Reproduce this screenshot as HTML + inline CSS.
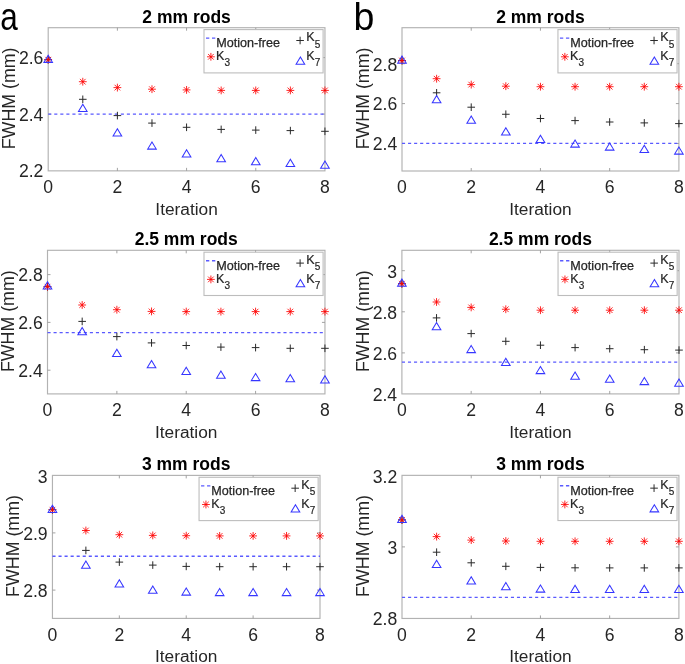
<!DOCTYPE html>
<html><head><meta charset="utf-8"><style>
html,body{margin:0;padding:0;background:#fff;}
svg{display:block;font-family:"Liberation Sans", sans-serif;will-change:transform;}
</style></head><body>
<svg width="685" height="664" viewBox="0 0 685 664">
<rect width="685" height="664" fill="#fff"/>
<text x="0" y="0" font-size="38.5" text-anchor="start" font-weight="normal" fill="#000" transform="translate(0.2 29.8) scale(0.82 1)">a</text><text x="0" y="0" font-size="38.5" text-anchor="start" font-weight="normal" fill="#000" transform="translate(353.6 29.5) scale(0.975 1.02)">b</text>
<rect x="48.2" y="27.7" width="276.75" height="143.15" fill="none" stroke="#b2b2b2" stroke-width="1.15"/>
<path d="M117.39 170.85v-3.0M117.39 27.7v3.0M186.57 170.85v-3.0M186.57 27.7v3.0M255.76 170.85v-3.0M255.76 27.7v3.0M48.2 114.1h3.0M324.95 114.1h-3.0M48.2 57.6h3.0M324.95 57.6h-3.0" stroke="#999" stroke-width="0.9"/>
<line x1="48.2" y1="114.1" x2="324.95" y2="114.1" stroke="#5a5aff" stroke-width="1.35" stroke-dasharray="3.1 2.95"/>
<path d="M44.4 59.7H52M48.2 55.9V63.5" stroke="#2a2a2a" stroke-width="1.0" fill="none"/>
<path d="M44.3 59.7H52.1M48.2 55.8V63.6M45.39 56.89L51.01 62.51M45.39 62.51L51.01 56.89" stroke="#ff0000" stroke-width="0.85" fill="none"/>
<path d="M48.2 55.15L52.5 62.35H43.9Z" stroke="#3636ff" stroke-width="1.05" fill="none" stroke-linejoin="miter"/>
<path d="M78.99 99.3H86.59M82.79 95.5V103.1" stroke="#2a2a2a" stroke-width="1.0" fill="none"/>
<path d="M78.89 81.7H86.69M82.79 77.8V85.6M79.99 78.89L85.6 84.51M79.99 84.51L85.6 78.89" stroke="#ff0000" stroke-width="0.85" fill="none"/>
<path d="M82.79 104.3L87.09 111.5H78.49Z" stroke="#3636ff" stroke-width="1.05" fill="none" stroke-linejoin="miter"/>
<path d="M113.59 115.6H121.19M117.39 111.8V119.4" stroke="#2a2a2a" stroke-width="1.0" fill="none"/>
<path d="M113.49 87.6H121.29M117.39 83.7V91.5M114.58 84.79L120.2 90.41M114.58 90.41L120.2 84.79" stroke="#ff0000" stroke-width="0.85" fill="none"/>
<path d="M117.39 128.8L121.69 136H113.09Z" stroke="#3636ff" stroke-width="1.05" fill="none" stroke-linejoin="miter"/>
<path d="M148.18 123.1H155.78M151.98 119.3V126.9" stroke="#2a2a2a" stroke-width="1.0" fill="none"/>
<path d="M148.08 89.2H155.88M151.98 85.3V93.1M149.17 86.39L154.79 92.01M149.17 92.01L154.79 86.39" stroke="#ff0000" stroke-width="0.85" fill="none"/>
<path d="M151.98 141.9L156.28 149.1H147.68Z" stroke="#3636ff" stroke-width="1.05" fill="none" stroke-linejoin="miter"/>
<path d="M182.77 127.3H190.38M186.57 123.5V131.1" stroke="#2a2a2a" stroke-width="1.0" fill="none"/>
<path d="M182.67 89.9H190.47M186.57 86V93.8M183.77 87.09L189.38 92.71M183.77 92.71L189.38 87.09" stroke="#ff0000" stroke-width="0.85" fill="none"/>
<path d="M186.57 149.7L190.88 156.9H182.27Z" stroke="#3636ff" stroke-width="1.05" fill="none" stroke-linejoin="miter"/>
<path d="M217.37 129.4H224.97M221.17 125.6V133.2" stroke="#2a2a2a" stroke-width="1.0" fill="none"/>
<path d="M217.27 90.4H225.07M221.17 86.5V94.3M218.36 87.59L223.98 93.21M218.36 93.21L223.98 87.59" stroke="#ff0000" stroke-width="0.85" fill="none"/>
<path d="M221.17 154.5L225.47 161.7H216.87Z" stroke="#3636ff" stroke-width="1.05" fill="none" stroke-linejoin="miter"/>
<path d="M251.96 130.1H259.56M255.76 126.3V133.9" stroke="#2a2a2a" stroke-width="1.0" fill="none"/>
<path d="M251.86 90.4H259.66M255.76 86.5V94.3M252.95 87.59L258.57 93.21M252.95 93.21L258.57 87.59" stroke="#ff0000" stroke-width="0.85" fill="none"/>
<path d="M255.76 157.6L260.06 164.8H251.46Z" stroke="#3636ff" stroke-width="1.05" fill="none" stroke-linejoin="miter"/>
<path d="M286.56 130.6H294.16M290.36 126.8V134.4" stroke="#2a2a2a" stroke-width="1.0" fill="none"/>
<path d="M286.46 90.4H294.26M290.36 86.5V94.3M287.55 87.59L293.16 93.21M287.55 93.21L293.16 87.59" stroke="#ff0000" stroke-width="0.85" fill="none"/>
<path d="M290.36 159.2L294.66 166.4H286.06Z" stroke="#3636ff" stroke-width="1.05" fill="none" stroke-linejoin="miter"/>
<path d="M321.15 131.3H328.75M324.95 127.5V135.1" stroke="#2a2a2a" stroke-width="1.0" fill="none"/>
<path d="M321.05 90.4H328.85M324.95 86.5V94.3M322.14 87.59L327.76 93.21M322.14 93.21L327.76 87.59" stroke="#ff0000" stroke-width="0.85" fill="none"/>
<path d="M324.95 161.1L329.25 168.3H320.65Z" stroke="#3636ff" stroke-width="1.05" fill="none" stroke-linejoin="miter"/>
<text x="48.2" y="192.95" font-size="17.6" text-anchor="middle" font-weight="normal" fill="#262626" >0</text>
<text x="117.39" y="192.95" font-size="17.6" text-anchor="middle" font-weight="normal" fill="#262626" >2</text>
<text x="186.57" y="192.95" font-size="17.6" text-anchor="middle" font-weight="normal" fill="#262626" >4</text>
<text x="255.76" y="192.95" font-size="17.6" text-anchor="middle" font-weight="normal" fill="#262626" >6</text>
<text x="324.95" y="192.95" font-size="17.6" text-anchor="middle" font-weight="normal" fill="#262626" >8</text>
<text x="43.4" y="177.4" font-size="17.6" text-anchor="end" font-weight="normal" fill="#262626" >2.2</text>
<text x="43.4" y="120.9" font-size="17.6" text-anchor="end" font-weight="normal" fill="#262626" >2.4</text>
<text x="43.4" y="64.4" font-size="17.6" text-anchor="end" font-weight="normal" fill="#262626" >2.6</text>
<text x="186.57" y="214.65" font-size="17.3" text-anchor="middle" font-weight="normal" fill="#262626" >Iteration</text>
<text x="0" y="0" font-size="17.6" text-anchor="middle" font-weight="normal" fill="#262626" textLength="101.8" lengthAdjust="spacingAndGlyphs" transform="translate(14.75 98.37) rotate(-90)">FWHM (mm)</text>
<text x="186.57" y="22.7" font-size="17.5" text-anchor="middle" font-weight="bold" fill="#000" >2 mm rods</text>
<rect x="204" y="29.6" width="119.1" height="43.3" fill="#fff" stroke="#bdbdbd" stroke-width="1.1"/>
<line x1="206" y1="38.1" x2="215.8" y2="38.1" stroke="#5a5aff" stroke-width="1.35" stroke-dasharray="3.3 2.7"/>
<text x="216.3" y="47.1" font-size="12.6" text-anchor="start" font-weight="normal" fill="#262626" stroke="#262626" stroke-width="0.25">Motion-free</text>
<path d="M296.3 40.5H303.9M300.1 36.7V44.3" stroke="#2a2a2a" stroke-width="1.0" fill="none"/>
<text x="306.2" y="41.1" font-size="12.6" text-anchor="start" font-weight="normal" fill="#262626" stroke="#262626" stroke-width="0.2">K</text>
<text x="314.8" y="47.5" font-size="10.0" text-anchor="start" font-weight="normal" fill="#262626" stroke="#262626" stroke-width="0.2">5</text>
<path d="M207 56.8H214.8M210.9 52.9V60.7M208.09 53.99L213.71 59.61M208.09 59.61L213.71 53.99" stroke="#ff0000" stroke-width="0.85" fill="none"/>
<text x="216.1" y="60" font-size="12.6" text-anchor="start" font-weight="normal" fill="#262626" stroke="#262626" stroke-width="0.2">K</text>
<text x="224.6" y="66.3" font-size="10.0" text-anchor="start" font-weight="normal" fill="#262626" stroke="#262626" stroke-width="0.2">3</text>
<path d="M300.4 57L304.7 64.2H296.1Z" stroke="#3636ff" stroke-width="1.05" fill="none" stroke-linejoin="miter"/>
<text x="306.25" y="60.1" font-size="12.6" text-anchor="start" font-weight="normal" fill="#262626" stroke="#262626" stroke-width="0.2">K</text>
<text x="314.7" y="66.2" font-size="10.0" text-anchor="start" font-weight="normal" fill="#262626" stroke="#262626" stroke-width="0.2">7</text>
<rect x="402" y="27.7" width="276.9" height="143.3" fill="none" stroke="#b2b2b2" stroke-width="1.15"/>
<path d="M471.23 171v-3.0M471.23 27.7v3.0M540.45 171v-3.0M540.45 27.7v3.0M609.67 171v-3.0M609.67 27.7v3.0M402 143.5h3.0M678.9 143.5h-3.0M402 103.6h3.0M678.9 103.6h-3.0M402 63.7h3.0M678.9 63.7h-3.0" stroke="#999" stroke-width="0.9"/>
<line x1="402" y1="143.4" x2="678.9" y2="143.4" stroke="#5a5aff" stroke-width="1.35" stroke-dasharray="3.1 2.95"/>
<path d="M398.2 60.55H405.8M402 56.75V64.35" stroke="#2a2a2a" stroke-width="1.0" fill="none"/>
<path d="M398.1 60.55H405.9M402 56.65V64.45M399.19 57.74L404.81 63.36M399.19 63.36L404.81 57.74" stroke="#ff0000" stroke-width="0.85" fill="none"/>
<path d="M402 56L406.3 63.2H397.7Z" stroke="#3636ff" stroke-width="1.05" fill="none" stroke-linejoin="miter"/>
<path d="M432.81 92.8H440.41M436.61 89V96.6" stroke="#2a2a2a" stroke-width="1.0" fill="none"/>
<path d="M432.71 78.7H440.51M436.61 74.8V82.6M433.8 75.89L439.42 81.51M433.8 81.51L439.42 75.89" stroke="#ff0000" stroke-width="0.85" fill="none"/>
<path d="M436.61 95.5L440.91 102.7H432.31Z" stroke="#3636ff" stroke-width="1.05" fill="none" stroke-linejoin="miter"/>
<path d="M467.43 107.2H475.03M471.23 103.4V111" stroke="#2a2a2a" stroke-width="1.0" fill="none"/>
<path d="M467.33 84.6H475.12M471.23 80.7V88.5M468.42 81.79L474.03 87.41M468.42 87.41L474.03 81.79" stroke="#ff0000" stroke-width="0.85" fill="none"/>
<path d="M471.23 116L475.53 123.2H466.93Z" stroke="#3636ff" stroke-width="1.05" fill="none" stroke-linejoin="miter"/>
<path d="M502.04 114.25H509.64M505.84 110.45V118.05" stroke="#2a2a2a" stroke-width="1.0" fill="none"/>
<path d="M501.94 86.2H509.74M505.84 82.3V90.1M503.03 83.39L508.65 89.01M503.03 89.01L508.65 83.39" stroke="#ff0000" stroke-width="0.85" fill="none"/>
<path d="M505.84 127.7L510.14 134.9H501.54Z" stroke="#3636ff" stroke-width="1.05" fill="none" stroke-linejoin="miter"/>
<path d="M536.65 118.5H544.25M540.45 114.7V122.3" stroke="#2a2a2a" stroke-width="1.0" fill="none"/>
<path d="M536.55 86.7H544.35M540.45 82.8V90.6M537.64 83.89L543.26 89.51M537.64 89.51L543.26 83.89" stroke="#ff0000" stroke-width="0.85" fill="none"/>
<path d="M540.45 135.2L544.75 142.4H536.15Z" stroke="#3636ff" stroke-width="1.05" fill="none" stroke-linejoin="miter"/>
<path d="M571.26 120.6H578.86M575.06 116.8V124.4" stroke="#2a2a2a" stroke-width="1.0" fill="none"/>
<path d="M571.16 86.7H578.96M575.06 82.8V90.6M572.25 83.89L577.87 89.51M572.25 89.51L577.87 83.89" stroke="#ff0000" stroke-width="0.85" fill="none"/>
<path d="M575.06 139.9L579.36 147.1H570.76Z" stroke="#3636ff" stroke-width="1.05" fill="none" stroke-linejoin="miter"/>
<path d="M605.88 122H613.47M609.67 118.2V125.8" stroke="#2a2a2a" stroke-width="1.0" fill="none"/>
<path d="M605.77 86.7H613.57M609.67 82.8V90.6M606.87 83.89L612.48 89.51M606.87 89.51L612.48 83.89" stroke="#ff0000" stroke-width="0.85" fill="none"/>
<path d="M609.67 142.9L613.97 150.1H605.38Z" stroke="#3636ff" stroke-width="1.05" fill="none" stroke-linejoin="miter"/>
<path d="M640.49 122.9H648.09M644.29 119.1V126.7" stroke="#2a2a2a" stroke-width="1.0" fill="none"/>
<path d="M640.39 86.7H648.19M644.29 82.8V90.6M641.48 83.89L647.1 89.51M641.48 89.51L647.1 83.89" stroke="#ff0000" stroke-width="0.85" fill="none"/>
<path d="M644.29 145.2L648.59 152.4H639.99Z" stroke="#3636ff" stroke-width="1.05" fill="none" stroke-linejoin="miter"/>
<path d="M675.1 123.6H682.7M678.9 119.8V127.4" stroke="#2a2a2a" stroke-width="1.0" fill="none"/>
<path d="M675 86.7H682.8M678.9 82.8V90.6M676.09 83.89L681.71 89.51M676.09 89.51L681.71 83.89" stroke="#ff0000" stroke-width="0.85" fill="none"/>
<path d="M678.9 146.9L683.2 154.1H674.6Z" stroke="#3636ff" stroke-width="1.05" fill="none" stroke-linejoin="miter"/>
<text x="402" y="193.1" font-size="17.6" text-anchor="middle" font-weight="normal" fill="#262626" >0</text>
<text x="471.23" y="193.1" font-size="17.6" text-anchor="middle" font-weight="normal" fill="#262626" >2</text>
<text x="540.45" y="193.1" font-size="17.6" text-anchor="middle" font-weight="normal" fill="#262626" >4</text>
<text x="609.67" y="193.1" font-size="17.6" text-anchor="middle" font-weight="normal" fill="#262626" >6</text>
<text x="678.9" y="193.1" font-size="17.6" text-anchor="middle" font-weight="normal" fill="#262626" >8</text>
<text x="397.2" y="150.3" font-size="17.6" text-anchor="end" font-weight="normal" fill="#262626" >2.4</text>
<text x="397.2" y="110.4" font-size="17.6" text-anchor="end" font-weight="normal" fill="#262626" >2.6</text>
<text x="397.2" y="70.5" font-size="17.6" text-anchor="end" font-weight="normal" fill="#262626" >2.8</text>
<text x="540.45" y="214.8" font-size="17.3" text-anchor="middle" font-weight="normal" fill="#262626" >Iteration</text>
<text x="0" y="0" font-size="17.6" text-anchor="middle" font-weight="normal" fill="#262626" textLength="101.8" lengthAdjust="spacingAndGlyphs" transform="translate(369 98.45) rotate(-90)">FWHM (mm)</text>
<text x="540.45" y="22.7" font-size="17.5" text-anchor="middle" font-weight="bold" fill="#000" >2 mm rods</text>
<rect x="557.95" y="29.6" width="119.1" height="43.3" fill="#fff" stroke="#bdbdbd" stroke-width="1.1"/>
<line x1="559.95" y1="38.1" x2="569.75" y2="38.1" stroke="#5a5aff" stroke-width="1.35" stroke-dasharray="3.3 2.7"/>
<text x="570.25" y="47.1" font-size="12.6" text-anchor="start" font-weight="normal" fill="#262626" stroke="#262626" stroke-width="0.25">Motion-free</text>
<path d="M650.25 40.5H657.85M654.05 36.7V44.3" stroke="#2a2a2a" stroke-width="1.0" fill="none"/>
<text x="660.15" y="41.1" font-size="12.6" text-anchor="start" font-weight="normal" fill="#262626" stroke="#262626" stroke-width="0.2">K</text>
<text x="668.75" y="47.5" font-size="10.0" text-anchor="start" font-weight="normal" fill="#262626" stroke="#262626" stroke-width="0.2">5</text>
<path d="M560.95 56.8H568.75M564.85 52.9V60.7M562.04 53.99L567.66 59.61M562.04 59.61L567.66 53.99" stroke="#ff0000" stroke-width="0.85" fill="none"/>
<text x="570.05" y="60" font-size="12.6" text-anchor="start" font-weight="normal" fill="#262626" stroke="#262626" stroke-width="0.2">K</text>
<text x="578.55" y="66.3" font-size="10.0" text-anchor="start" font-weight="normal" fill="#262626" stroke="#262626" stroke-width="0.2">3</text>
<path d="M654.35 57L658.65 64.2H650.05Z" stroke="#3636ff" stroke-width="1.05" fill="none" stroke-linejoin="miter"/>
<text x="660.2" y="60.1" font-size="12.6" text-anchor="start" font-weight="normal" fill="#262626" stroke="#262626" stroke-width="0.2">K</text>
<text x="668.65" y="66.2" font-size="10.0" text-anchor="start" font-weight="normal" fill="#262626" stroke="#262626" stroke-width="0.2">7</text>
<rect x="47.5" y="250.3" width="277.45" height="143.6" fill="none" stroke="#b2b2b2" stroke-width="1.15"/>
<path d="M116.86 393.9v-3.0M116.86 250.3v3.0M186.22 393.9v-3.0M186.22 250.3v3.0M255.59 393.9v-3.0M255.59 250.3v3.0M47.5 370.2h3.0M324.95 370.2h-3.0M47.5 322.4h3.0M324.95 322.4h-3.0M47.5 274.6h3.0M324.95 274.6h-3.0" stroke="#999" stroke-width="0.9"/>
<line x1="47.5" y1="332.6" x2="324.95" y2="332.6" stroke="#5a5aff" stroke-width="1.35" stroke-dasharray="3.1 2.95"/>
<path d="M43.7 286.7H51.3M47.5 282.9V290.5" stroke="#2a2a2a" stroke-width="1.0" fill="none"/>
<path d="M43.6 286.7H51.4M47.5 282.8V290.6M44.69 283.89L50.31 289.51M44.69 289.51L50.31 283.89" stroke="#ff0000" stroke-width="0.85" fill="none"/>
<path d="M47.5 281.8L51.8 289H43.2Z" stroke="#3636ff" stroke-width="1.05" fill="none" stroke-linejoin="miter"/>
<path d="M78.38 321.4H85.98M82.18 317.6V325.2" stroke="#2a2a2a" stroke-width="1.0" fill="none"/>
<path d="M78.28 305H86.08M82.18 301.1V308.9M79.37 302.19L84.99 307.81M79.37 307.81L84.99 302.19" stroke="#ff0000" stroke-width="0.85" fill="none"/>
<path d="M82.18 327.6L86.48 334.8H77.88Z" stroke="#3636ff" stroke-width="1.05" fill="none" stroke-linejoin="miter"/>
<path d="M113.06 336.6H120.66M116.86 332.8V340.4" stroke="#2a2a2a" stroke-width="1.0" fill="none"/>
<path d="M112.96 309.7H120.76M116.86 305.8V313.6M114.05 306.89L119.67 312.51M114.05 312.51L119.67 306.89" stroke="#ff0000" stroke-width="0.85" fill="none"/>
<path d="M116.86 349.3L121.16 356.5H112.56Z" stroke="#3636ff" stroke-width="1.05" fill="none" stroke-linejoin="miter"/>
<path d="M147.74 342.9H155.34M151.54 339.1V346.7" stroke="#2a2a2a" stroke-width="1.0" fill="none"/>
<path d="M147.64 311.4H155.44M151.54 307.5V315.3M148.74 308.59L154.35 314.21M148.74 314.21L154.35 308.59" stroke="#ff0000" stroke-width="0.85" fill="none"/>
<path d="M151.54 360.6L155.84 367.8H147.24Z" stroke="#3636ff" stroke-width="1.05" fill="none" stroke-linejoin="miter"/>
<path d="M182.42 345.5H190.03M186.22 341.7V349.3" stroke="#2a2a2a" stroke-width="1.0" fill="none"/>
<path d="M182.32 311.6H190.12M186.22 307.7V315.5M183.42 308.79L189.03 314.41M183.42 314.41L189.03 308.79" stroke="#ff0000" stroke-width="0.85" fill="none"/>
<path d="M186.22 367.3L190.53 374.5H181.92Z" stroke="#3636ff" stroke-width="1.05" fill="none" stroke-linejoin="miter"/>
<path d="M217.11 347.1H224.71M220.91 343.3V350.9" stroke="#2a2a2a" stroke-width="1.0" fill="none"/>
<path d="M217.01 311.6H224.81M220.91 307.7V315.5M218.1 308.79L223.71 314.41M218.1 314.41L223.71 308.79" stroke="#ff0000" stroke-width="0.85" fill="none"/>
<path d="M220.91 371.1L225.21 378.3H216.61Z" stroke="#3636ff" stroke-width="1.05" fill="none" stroke-linejoin="miter"/>
<path d="M251.79 347.6H259.39M255.59 343.8V351.4" stroke="#2a2a2a" stroke-width="1.0" fill="none"/>
<path d="M251.69 311.6H259.49M255.59 307.7V315.5M252.78 308.79L258.4 314.41M252.78 314.41L258.4 308.79" stroke="#ff0000" stroke-width="0.85" fill="none"/>
<path d="M255.59 373.4L259.89 380.6H251.29Z" stroke="#3636ff" stroke-width="1.05" fill="none" stroke-linejoin="miter"/>
<path d="M286.47 348.3H294.07M290.27 344.5V352.1" stroke="#2a2a2a" stroke-width="1.0" fill="none"/>
<path d="M286.37 311.6H294.17M290.27 307.7V315.5M287.46 308.79L293.08 314.41M287.46 314.41L293.08 308.79" stroke="#ff0000" stroke-width="0.85" fill="none"/>
<path d="M290.27 374.6L294.57 381.8H285.97Z" stroke="#3636ff" stroke-width="1.05" fill="none" stroke-linejoin="miter"/>
<path d="M321.15 348.3H328.75M324.95 344.5V352.1" stroke="#2a2a2a" stroke-width="1.0" fill="none"/>
<path d="M321.05 311.6H328.85M324.95 307.7V315.5M322.14 308.79L327.76 314.41M322.14 314.41L327.76 308.79" stroke="#ff0000" stroke-width="0.85" fill="none"/>
<path d="M324.95 375.7L329.25 382.9H320.65Z" stroke="#3636ff" stroke-width="1.05" fill="none" stroke-linejoin="miter"/>
<text x="47.5" y="416" font-size="17.6" text-anchor="middle" font-weight="normal" fill="#262626" >0</text>
<text x="116.86" y="416" font-size="17.6" text-anchor="middle" font-weight="normal" fill="#262626" >2</text>
<text x="186.22" y="416" font-size="17.6" text-anchor="middle" font-weight="normal" fill="#262626" >4</text>
<text x="255.59" y="416" font-size="17.6" text-anchor="middle" font-weight="normal" fill="#262626" >6</text>
<text x="324.95" y="416" font-size="17.6" text-anchor="middle" font-weight="normal" fill="#262626" >8</text>
<text x="42.7" y="377" font-size="17.6" text-anchor="end" font-weight="normal" fill="#262626" >2.4</text>
<text x="42.7" y="329.2" font-size="17.6" text-anchor="end" font-weight="normal" fill="#262626" >2.6</text>
<text x="42.7" y="281.4" font-size="17.6" text-anchor="end" font-weight="normal" fill="#262626" >2.8</text>
<text x="186.22" y="437.7" font-size="17.3" text-anchor="middle" font-weight="normal" fill="#262626" >Iteration</text>
<text x="0" y="0" font-size="17.6" text-anchor="middle" font-weight="normal" fill="#262626" textLength="101.8" lengthAdjust="spacingAndGlyphs" transform="translate(14 321.2) rotate(-90)">FWHM (mm)</text>
<text x="186.22" y="245.3" font-size="17.5" text-anchor="middle" font-weight="bold" fill="#000" >2.5 mm rods</text>
<rect x="204" y="252.2" width="119.1" height="43.3" fill="#fff" stroke="#bdbdbd" stroke-width="1.1"/>
<line x1="206" y1="260.7" x2="215.8" y2="260.7" stroke="#5a5aff" stroke-width="1.35" stroke-dasharray="3.3 2.7"/>
<text x="216.3" y="269.7" font-size="12.6" text-anchor="start" font-weight="normal" fill="#262626" stroke="#262626" stroke-width="0.25">Motion-free</text>
<path d="M296.3 263.1H303.9M300.1 259.3V266.9" stroke="#2a2a2a" stroke-width="1.0" fill="none"/>
<text x="306.2" y="263.7" font-size="12.6" text-anchor="start" font-weight="normal" fill="#262626" stroke="#262626" stroke-width="0.2">K</text>
<text x="314.8" y="270.1" font-size="10.0" text-anchor="start" font-weight="normal" fill="#262626" stroke="#262626" stroke-width="0.2">5</text>
<path d="M207 279.4H214.8M210.9 275.5V283.3M208.09 276.59L213.71 282.21M208.09 282.21L213.71 276.59" stroke="#ff0000" stroke-width="0.85" fill="none"/>
<text x="216.1" y="282.6" font-size="12.6" text-anchor="start" font-weight="normal" fill="#262626" stroke="#262626" stroke-width="0.2">K</text>
<text x="224.6" y="288.9" font-size="10.0" text-anchor="start" font-weight="normal" fill="#262626" stroke="#262626" stroke-width="0.2">3</text>
<path d="M300.4 279.6L304.7 286.8H296.1Z" stroke="#3636ff" stroke-width="1.05" fill="none" stroke-linejoin="miter"/>
<text x="306.25" y="282.7" font-size="12.6" text-anchor="start" font-weight="normal" fill="#262626" stroke="#262626" stroke-width="0.2">K</text>
<text x="314.7" y="288.8" font-size="10.0" text-anchor="start" font-weight="normal" fill="#262626" stroke="#262626" stroke-width="0.2">7</text>
<rect x="401.9" y="250.3" width="277.1" height="143.6" fill="none" stroke="#b2b2b2" stroke-width="1.15"/>
<path d="M471.17 393.9v-3.0M471.17 250.3v3.0M540.45 393.9v-3.0M540.45 250.3v3.0M609.73 393.9v-3.0M609.73 250.3v3.0M401.9 352.9h3.0M679 352.9h-3.0M401.9 311.8h3.0M679 311.8h-3.0M401.9 270.7h3.0M679 270.7h-3.0" stroke="#999" stroke-width="0.9"/>
<line x1="401.9" y1="362.1" x2="679" y2="362.1" stroke="#5a5aff" stroke-width="1.35" stroke-dasharray="3.1 2.95"/>
<path d="M398.1 283.7H405.7M401.9 279.9V287.5" stroke="#2a2a2a" stroke-width="1.0" fill="none"/>
<path d="M398 283.7H405.8M401.9 279.8V287.6M399.09 280.89L404.71 286.51M399.09 286.51L404.71 280.89" stroke="#ff0000" stroke-width="0.85" fill="none"/>
<path d="M401.9 279.05L406.2 286.25H397.6Z" stroke="#3636ff" stroke-width="1.05" fill="none" stroke-linejoin="miter"/>
<path d="M432.74 317.9H440.34M436.54 314.1V321.7" stroke="#2a2a2a" stroke-width="1.0" fill="none"/>
<path d="M432.64 302H440.44M436.54 298.1V305.9M433.73 299.19L439.35 304.81M433.73 304.81L439.35 299.19" stroke="#ff0000" stroke-width="0.85" fill="none"/>
<path d="M436.54 322.5L440.84 329.7H432.24Z" stroke="#3636ff" stroke-width="1.05" fill="none" stroke-linejoin="miter"/>
<path d="M467.37 333.6H474.97M471.17 329.8V337.4" stroke="#2a2a2a" stroke-width="1.0" fill="none"/>
<path d="M467.27 307.4H475.07M471.17 303.5V311.3M468.37 304.59L473.98 310.21M468.37 310.21L473.98 304.59" stroke="#ff0000" stroke-width="0.85" fill="none"/>
<path d="M471.17 345.4L475.47 352.6H466.87Z" stroke="#3636ff" stroke-width="1.05" fill="none" stroke-linejoin="miter"/>
<path d="M502.01 341.3H509.61M505.81 337.5V345.1" stroke="#2a2a2a" stroke-width="1.0" fill="none"/>
<path d="M501.91 309.25H509.71M505.81 305.35V313.15M503 306.44L508.62 312.06M503 312.06L508.62 306.44" stroke="#ff0000" stroke-width="0.85" fill="none"/>
<path d="M505.81 358.2L510.11 365.4H501.51Z" stroke="#3636ff" stroke-width="1.05" fill="none" stroke-linejoin="miter"/>
<path d="M536.65 345.2H544.25M540.45 341.4V349" stroke="#2a2a2a" stroke-width="1.0" fill="none"/>
<path d="M536.55 310.2H544.35M540.45 306.3V314.1M537.64 307.39L543.26 313.01M537.64 313.01L543.26 307.39" stroke="#ff0000" stroke-width="0.85" fill="none"/>
<path d="M540.45 366.4L544.75 373.6H536.15Z" stroke="#3636ff" stroke-width="1.05" fill="none" stroke-linejoin="miter"/>
<path d="M571.29 347.6H578.89M575.09 343.8V351.4" stroke="#2a2a2a" stroke-width="1.0" fill="none"/>
<path d="M571.19 310.2H578.99M575.09 306.3V314.1M572.28 307.39L577.9 313.01M572.28 313.01L577.9 307.39" stroke="#ff0000" stroke-width="0.85" fill="none"/>
<path d="M575.09 372L579.39 379.2H570.79Z" stroke="#3636ff" stroke-width="1.05" fill="none" stroke-linejoin="miter"/>
<path d="M605.93 348.7H613.52M609.73 344.9V352.5" stroke="#2a2a2a" stroke-width="1.0" fill="none"/>
<path d="M605.83 310.2H613.62M609.73 306.3V314.1M606.92 307.39L612.53 313.01M606.92 313.01L612.53 307.39" stroke="#ff0000" stroke-width="0.85" fill="none"/>
<path d="M609.73 375L614.02 382.2H605.43Z" stroke="#3636ff" stroke-width="1.05" fill="none" stroke-linejoin="miter"/>
<path d="M640.56 349.7H648.16M644.36 345.9V353.5" stroke="#2a2a2a" stroke-width="1.0" fill="none"/>
<path d="M640.46 310.2H648.26M644.36 306.3V314.1M641.55 307.39L647.17 313.01M641.55 313.01L647.17 307.39" stroke="#ff0000" stroke-width="0.85" fill="none"/>
<path d="M644.36 377.4L648.66 384.6H640.06Z" stroke="#3636ff" stroke-width="1.05" fill="none" stroke-linejoin="miter"/>
<path d="M675.2 350.1H682.8M679 346.3V353.9" stroke="#2a2a2a" stroke-width="1.0" fill="none"/>
<path d="M675.1 310.2H682.9M679 306.3V314.1M676.19 307.39L681.81 313.01M676.19 313.01L681.81 307.39" stroke="#ff0000" stroke-width="0.85" fill="none"/>
<path d="M679 379L683.3 386.2H674.7Z" stroke="#3636ff" stroke-width="1.05" fill="none" stroke-linejoin="miter"/>
<text x="401.9" y="416" font-size="17.6" text-anchor="middle" font-weight="normal" fill="#262626" >0</text>
<text x="471.17" y="416" font-size="17.6" text-anchor="middle" font-weight="normal" fill="#262626" >2</text>
<text x="540.45" y="416" font-size="17.6" text-anchor="middle" font-weight="normal" fill="#262626" >4</text>
<text x="609.73" y="416" font-size="17.6" text-anchor="middle" font-weight="normal" fill="#262626" >6</text>
<text x="679" y="416" font-size="17.6" text-anchor="middle" font-weight="normal" fill="#262626" >8</text>
<text x="397.1" y="400.8" font-size="17.6" text-anchor="end" font-weight="normal" fill="#262626" >2.4</text>
<text x="397.1" y="359.7" font-size="17.6" text-anchor="end" font-weight="normal" fill="#262626" >2.6</text>
<text x="397.1" y="318.6" font-size="17.6" text-anchor="end" font-weight="normal" fill="#262626" >2.8</text>
<text x="397.1" y="277.5" font-size="17.6" text-anchor="end" font-weight="normal" fill="#262626" >3</text>
<text x="540.45" y="437.7" font-size="17.3" text-anchor="middle" font-weight="normal" fill="#262626" >Iteration</text>
<text x="0" y="0" font-size="17.6" text-anchor="middle" font-weight="normal" fill="#262626" textLength="101.8" lengthAdjust="spacingAndGlyphs" transform="translate(368.9 321.2) rotate(-90)">FWHM (mm)</text>
<text x="540.45" y="245.3" font-size="17.5" text-anchor="middle" font-weight="bold" fill="#000" >2.5 mm rods</text>
<rect x="558.05" y="252.2" width="119.1" height="43.3" fill="#fff" stroke="#bdbdbd" stroke-width="1.1"/>
<line x1="560.05" y1="260.7" x2="569.85" y2="260.7" stroke="#5a5aff" stroke-width="1.35" stroke-dasharray="3.3 2.7"/>
<text x="570.35" y="269.7" font-size="12.6" text-anchor="start" font-weight="normal" fill="#262626" stroke="#262626" stroke-width="0.25">Motion-free</text>
<path d="M650.35 263.1H657.95M654.15 259.3V266.9" stroke="#2a2a2a" stroke-width="1.0" fill="none"/>
<text x="660.25" y="263.7" font-size="12.6" text-anchor="start" font-weight="normal" fill="#262626" stroke="#262626" stroke-width="0.2">K</text>
<text x="668.85" y="270.1" font-size="10.0" text-anchor="start" font-weight="normal" fill="#262626" stroke="#262626" stroke-width="0.2">5</text>
<path d="M561.05 279.4H568.85M564.95 275.5V283.3M562.14 276.59L567.76 282.21M562.14 282.21L567.76 276.59" stroke="#ff0000" stroke-width="0.85" fill="none"/>
<text x="570.15" y="282.6" font-size="12.6" text-anchor="start" font-weight="normal" fill="#262626" stroke="#262626" stroke-width="0.2">K</text>
<text x="578.65" y="288.9" font-size="10.0" text-anchor="start" font-weight="normal" fill="#262626" stroke="#262626" stroke-width="0.2">3</text>
<path d="M654.45 279.6L658.75 286.8H650.15Z" stroke="#3636ff" stroke-width="1.05" fill="none" stroke-linejoin="miter"/>
<text x="660.3" y="282.7" font-size="12.6" text-anchor="start" font-weight="normal" fill="#262626" stroke="#262626" stroke-width="0.2">K</text>
<text x="668.75" y="288.8" font-size="10.0" text-anchor="start" font-weight="normal" fill="#262626" stroke="#262626" stroke-width="0.2">7</text>
<rect x="52.45" y="475.4" width="267.55" height="143" fill="none" stroke="#b2b2b2" stroke-width="1.15"/>
<path d="M119.34 618.4v-3.0M119.34 475.4v3.0M186.23 618.4v-3.0M186.23 475.4v3.0M253.11 618.4v-3.0M253.11 475.4v3.0M52.45 590.1h3.0M320 590.1h-3.0M52.45 532.9h3.0M320 532.9h-3.0" stroke="#999" stroke-width="0.9"/>
<line x1="52.45" y1="556.2" x2="320" y2="556.2" stroke="#5a5aff" stroke-width="1.35" stroke-dasharray="3.1 2.95"/>
<path d="M48.65 509.7H56.25M52.45 505.9V513.5" stroke="#2a2a2a" stroke-width="1.0" fill="none"/>
<path d="M48.55 509.7H56.35M52.45 505.8V513.6M49.64 506.89L55.26 512.51M49.64 512.51L55.26 506.89" stroke="#ff0000" stroke-width="0.85" fill="none"/>
<path d="M52.45 505.2L56.75 512.4H48.15Z" stroke="#3636ff" stroke-width="1.05" fill="none" stroke-linejoin="miter"/>
<path d="M82.09 550.4H89.69M85.89 546.6V554.2" stroke="#2a2a2a" stroke-width="1.0" fill="none"/>
<path d="M81.99 530.5H89.79M85.89 526.6V534.4M83.09 527.69L88.7 533.31M83.09 533.31L88.7 527.69" stroke="#ff0000" stroke-width="0.85" fill="none"/>
<path d="M85.89 561L90.19 568.2H81.59Z" stroke="#3636ff" stroke-width="1.05" fill="none" stroke-linejoin="miter"/>
<path d="M115.54 562.1H123.14M119.34 558.3V565.9" stroke="#2a2a2a" stroke-width="1.0" fill="none"/>
<path d="M115.44 534.7H123.24M119.34 530.8V538.6M116.53 531.89L122.15 537.51M116.53 537.51L122.15 531.89" stroke="#ff0000" stroke-width="0.85" fill="none"/>
<path d="M119.34 579.7L123.64 586.9H115.04Z" stroke="#3636ff" stroke-width="1.05" fill="none" stroke-linejoin="miter"/>
<path d="M148.98 565.1H156.58M152.78 561.3V568.9" stroke="#2a2a2a" stroke-width="1.0" fill="none"/>
<path d="M148.88 535.4H156.68M152.78 531.5V539.3M149.97 532.59L155.59 538.21M149.97 538.21L155.59 532.59" stroke="#ff0000" stroke-width="0.85" fill="none"/>
<path d="M152.78 586L157.08 593.2H148.48Z" stroke="#3636ff" stroke-width="1.05" fill="none" stroke-linejoin="miter"/>
<path d="M182.43 566.4H190.03M186.23 562.6V570.2" stroke="#2a2a2a" stroke-width="1.0" fill="none"/>
<path d="M182.33 535.7H190.13M186.23 531.8V539.6M183.42 532.89L189.03 538.51M183.42 538.51L189.03 532.89" stroke="#ff0000" stroke-width="0.85" fill="none"/>
<path d="M186.23 587.9L190.53 595.1H181.93Z" stroke="#3636ff" stroke-width="1.05" fill="none" stroke-linejoin="miter"/>
<path d="M215.87 566.7H223.47M219.67 562.9V570.5" stroke="#2a2a2a" stroke-width="1.0" fill="none"/>
<path d="M215.77 535.9H223.57M219.67 532V539.8M216.86 533.09L222.48 538.71M216.86 538.71L222.48 533.09" stroke="#ff0000" stroke-width="0.85" fill="none"/>
<path d="M219.67 588.4L223.97 595.6H215.37Z" stroke="#3636ff" stroke-width="1.05" fill="none" stroke-linejoin="miter"/>
<path d="M249.31 566.7H256.91M253.11 562.9V570.5" stroke="#2a2a2a" stroke-width="1.0" fill="none"/>
<path d="M249.21 535.9H257.01M253.11 532V539.8M250.3 533.09L255.92 538.71M250.3 538.71L255.92 533.09" stroke="#ff0000" stroke-width="0.85" fill="none"/>
<path d="M253.11 588.4L257.41 595.6H248.81Z" stroke="#3636ff" stroke-width="1.05" fill="none" stroke-linejoin="miter"/>
<path d="M282.76 566.7H290.36M286.56 562.9V570.5" stroke="#2a2a2a" stroke-width="1.0" fill="none"/>
<path d="M282.66 535.9H290.46M286.56 532V539.8M283.75 533.09L289.36 538.71M283.75 538.71L289.36 533.09" stroke="#ff0000" stroke-width="0.85" fill="none"/>
<path d="M286.56 588.4L290.86 595.6H282.26Z" stroke="#3636ff" stroke-width="1.05" fill="none" stroke-linejoin="miter"/>
<path d="M316.2 566.7H323.8M320 562.9V570.5" stroke="#2a2a2a" stroke-width="1.0" fill="none"/>
<path d="M316.1 535.9H323.9M320 532V539.8M317.19 533.09L322.81 538.71M317.19 538.71L322.81 533.09" stroke="#ff0000" stroke-width="0.85" fill="none"/>
<path d="M320 588.4L324.3 595.6H315.7Z" stroke="#3636ff" stroke-width="1.05" fill="none" stroke-linejoin="miter"/>
<text x="52.45" y="640.5" font-size="17.6" text-anchor="middle" font-weight="normal" fill="#262626" >0</text>
<text x="119.34" y="640.5" font-size="17.6" text-anchor="middle" font-weight="normal" fill="#262626" >2</text>
<text x="186.23" y="640.5" font-size="17.6" text-anchor="middle" font-weight="normal" fill="#262626" >4</text>
<text x="253.11" y="640.5" font-size="17.6" text-anchor="middle" font-weight="normal" fill="#262626" >6</text>
<text x="320" y="640.5" font-size="17.6" text-anchor="middle" font-weight="normal" fill="#262626" >8</text>
<text x="47.65" y="596.9" font-size="17.6" text-anchor="end" font-weight="normal" fill="#262626" >2.8</text>
<text x="47.65" y="539.7" font-size="17.6" text-anchor="end" font-weight="normal" fill="#262626" >2.9</text>
<text x="47.65" y="482.5" font-size="17.6" text-anchor="end" font-weight="normal" fill="#262626" >3</text>
<text x="186.22" y="662.2" font-size="17.3" text-anchor="middle" font-weight="normal" fill="#262626" >Iteration</text>
<text x="0" y="0" font-size="17.6" text-anchor="middle" font-weight="normal" fill="#262626" textLength="101.8" lengthAdjust="spacingAndGlyphs" transform="translate(19.4 546) rotate(-90)">FWHM (mm)</text>
<text x="186.22" y="470.4" font-size="17.5" text-anchor="middle" font-weight="bold" fill="#000" >3 mm rods</text>
<rect x="199.05" y="477.3" width="119.1" height="43.3" fill="#fff" stroke="#bdbdbd" stroke-width="1.1"/>
<line x1="201.05" y1="485.8" x2="210.85" y2="485.8" stroke="#5a5aff" stroke-width="1.35" stroke-dasharray="3.3 2.7"/>
<text x="211.35" y="494.8" font-size="12.6" text-anchor="start" font-weight="normal" fill="#262626" stroke="#262626" stroke-width="0.25">Motion-free</text>
<path d="M291.35 488.2H298.95M295.15 484.4V492" stroke="#2a2a2a" stroke-width="1.0" fill="none"/>
<text x="301.25" y="488.8" font-size="12.6" text-anchor="start" font-weight="normal" fill="#262626" stroke="#262626" stroke-width="0.2">K</text>
<text x="309.85" y="495.2" font-size="10.0" text-anchor="start" font-weight="normal" fill="#262626" stroke="#262626" stroke-width="0.2">5</text>
<path d="M202.05 504.5H209.85M205.95 500.6V508.4M203.14 501.69L208.76 507.31M203.14 507.31L208.76 501.69" stroke="#ff0000" stroke-width="0.85" fill="none"/>
<text x="211.15" y="507.7" font-size="12.6" text-anchor="start" font-weight="normal" fill="#262626" stroke="#262626" stroke-width="0.2">K</text>
<text x="219.65" y="514" font-size="10.0" text-anchor="start" font-weight="normal" fill="#262626" stroke="#262626" stroke-width="0.2">3</text>
<path d="M295.45 504.7L299.75 511.9H291.15Z" stroke="#3636ff" stroke-width="1.05" fill="none" stroke-linejoin="miter"/>
<text x="301.3" y="507.8" font-size="12.6" text-anchor="start" font-weight="normal" fill="#262626" stroke="#262626" stroke-width="0.2">K</text>
<text x="309.75" y="513.9" font-size="10.0" text-anchor="start" font-weight="normal" fill="#262626" stroke="#262626" stroke-width="0.2">7</text>
<rect x="402" y="475.35" width="276.9" height="143.1" fill="none" stroke="#b2b2b2" stroke-width="1.15"/>
<path d="M471.23 618.45v-3.0M471.23 475.35v3.0M540.45 618.45v-3.0M540.45 475.35v3.0M609.67 618.45v-3.0M609.67 475.35v3.0M402 546.9h3.0M678.9 546.9h-3.0" stroke="#999" stroke-width="0.9"/>
<line x1="402" y1="597.4" x2="678.9" y2="597.4" stroke="#5a5aff" stroke-width="1.35" stroke-dasharray="3.1 2.95"/>
<path d="M398.2 519.9H405.8M402 516.1V523.7" stroke="#2a2a2a" stroke-width="1.0" fill="none"/>
<path d="M398.1 519.9H405.9M402 516V523.8M399.19 517.09L404.81 522.71M399.19 522.71L404.81 517.09" stroke="#ff0000" stroke-width="0.85" fill="none"/>
<path d="M402 515.2L406.3 522.4H397.7Z" stroke="#3636ff" stroke-width="1.05" fill="none" stroke-linejoin="miter"/>
<path d="M432.81 552.2H440.41M436.61 548.4V556" stroke="#2a2a2a" stroke-width="1.0" fill="none"/>
<path d="M432.71 536.6H440.51M436.61 532.7V540.5M433.8 533.79L439.42 539.41M433.8 539.41L439.42 533.79" stroke="#ff0000" stroke-width="0.85" fill="none"/>
<path d="M436.61 560.3L440.91 567.5H432.31Z" stroke="#3636ff" stroke-width="1.05" fill="none" stroke-linejoin="miter"/>
<path d="M467.43 562.8H475.03M471.23 559V566.6" stroke="#2a2a2a" stroke-width="1.0" fill="none"/>
<path d="M467.33 540.1H475.12M471.23 536.2V544M468.42 537.29L474.03 542.91M468.42 542.91L474.03 537.29" stroke="#ff0000" stroke-width="0.85" fill="none"/>
<path d="M471.23 576.7L475.53 583.9H466.93Z" stroke="#3636ff" stroke-width="1.05" fill="none" stroke-linejoin="miter"/>
<path d="M502.04 566.3H509.64M505.84 562.5V570.1" stroke="#2a2a2a" stroke-width="1.0" fill="none"/>
<path d="M501.94 541H509.74M505.84 537.1V544.9M503.03 538.19L508.65 543.81M503.03 543.81L508.65 538.19" stroke="#ff0000" stroke-width="0.85" fill="none"/>
<path d="M505.84 582.5L510.14 589.7H501.54Z" stroke="#3636ff" stroke-width="1.05" fill="none" stroke-linejoin="miter"/>
<path d="M536.65 567.4H544.25M540.45 563.6V571.2" stroke="#2a2a2a" stroke-width="1.0" fill="none"/>
<path d="M536.55 541.3H544.35M540.45 537.4V545.2M537.64 538.49L543.26 544.11M537.64 544.11L543.26 538.49" stroke="#ff0000" stroke-width="0.85" fill="none"/>
<path d="M540.45 584.9L544.75 592.1H536.15Z" stroke="#3636ff" stroke-width="1.05" fill="none" stroke-linejoin="miter"/>
<path d="M571.26 567.8H578.86M575.06 564V571.6" stroke="#2a2a2a" stroke-width="1.0" fill="none"/>
<path d="M571.16 541.3H578.96M575.06 537.4V545.2M572.25 538.49L577.87 544.11M572.25 544.11L577.87 538.49" stroke="#ff0000" stroke-width="0.85" fill="none"/>
<path d="M575.06 585.3L579.36 592.5H570.76Z" stroke="#3636ff" stroke-width="1.05" fill="none" stroke-linejoin="miter"/>
<path d="M605.88 567.9H613.47M609.67 564.1V571.7" stroke="#2a2a2a" stroke-width="1.0" fill="none"/>
<path d="M605.77 541.3H613.57M609.67 537.4V545.2M606.87 538.49L612.48 544.11M606.87 544.11L612.48 538.49" stroke="#ff0000" stroke-width="0.85" fill="none"/>
<path d="M609.67 585.3L613.97 592.5H605.38Z" stroke="#3636ff" stroke-width="1.05" fill="none" stroke-linejoin="miter"/>
<path d="M640.49 567.9H648.09M644.29 564.1V571.7" stroke="#2a2a2a" stroke-width="1.0" fill="none"/>
<path d="M640.39 541.3H648.19M644.29 537.4V545.2M641.48 538.49L647.1 544.11M641.48 544.11L647.1 538.49" stroke="#ff0000" stroke-width="0.85" fill="none"/>
<path d="M644.29 585.3L648.59 592.5H639.99Z" stroke="#3636ff" stroke-width="1.05" fill="none" stroke-linejoin="miter"/>
<path d="M675.1 567.9H682.7M678.9 564.1V571.7" stroke="#2a2a2a" stroke-width="1.0" fill="none"/>
<path d="M675 541.3H682.8M678.9 537.4V545.2M676.09 538.49L681.71 544.11M676.09 544.11L681.71 538.49" stroke="#ff0000" stroke-width="0.85" fill="none"/>
<path d="M678.9 585.3L683.2 592.5H674.6Z" stroke="#3636ff" stroke-width="1.05" fill="none" stroke-linejoin="miter"/>
<text x="402" y="640.55" font-size="17.6" text-anchor="middle" font-weight="normal" fill="#262626" >0</text>
<text x="471.23" y="640.55" font-size="17.6" text-anchor="middle" font-weight="normal" fill="#262626" >2</text>
<text x="540.45" y="640.55" font-size="17.6" text-anchor="middle" font-weight="normal" fill="#262626" >4</text>
<text x="609.67" y="640.55" font-size="17.6" text-anchor="middle" font-weight="normal" fill="#262626" >6</text>
<text x="678.9" y="640.55" font-size="17.6" text-anchor="middle" font-weight="normal" fill="#262626" >8</text>
<text x="397.2" y="624.9" font-size="17.6" text-anchor="end" font-weight="normal" fill="#262626" >2.8</text>
<text x="397.2" y="553.7" font-size="17.6" text-anchor="end" font-weight="normal" fill="#262626" >3</text>
<text x="397.2" y="482.5" font-size="17.6" text-anchor="end" font-weight="normal" fill="#262626" >3.2</text>
<text x="540.45" y="662.25" font-size="17.3" text-anchor="middle" font-weight="normal" fill="#262626" >Iteration</text>
<text x="0" y="0" font-size="17.6" text-anchor="middle" font-weight="normal" fill="#262626" textLength="101.8" lengthAdjust="spacingAndGlyphs" transform="translate(369 546) rotate(-90)">FWHM (mm)</text>
<text x="540.45" y="470.35" font-size="17.5" text-anchor="middle" font-weight="bold" fill="#000" >3 mm rods</text>
<rect x="557.95" y="477.25" width="119.1" height="43.3" fill="#fff" stroke="#bdbdbd" stroke-width="1.1"/>
<line x1="559.95" y1="485.75" x2="569.75" y2="485.75" stroke="#5a5aff" stroke-width="1.35" stroke-dasharray="3.3 2.7"/>
<text x="570.25" y="494.75" font-size="12.6" text-anchor="start" font-weight="normal" fill="#262626" stroke="#262626" stroke-width="0.25">Motion-free</text>
<path d="M650.25 488.15H657.85M654.05 484.35V491.95" stroke="#2a2a2a" stroke-width="1.0" fill="none"/>
<text x="660.15" y="488.75" font-size="12.6" text-anchor="start" font-weight="normal" fill="#262626" stroke="#262626" stroke-width="0.2">K</text>
<text x="668.75" y="495.15" font-size="10.0" text-anchor="start" font-weight="normal" fill="#262626" stroke="#262626" stroke-width="0.2">5</text>
<path d="M560.95 504.45H568.75M564.85 500.55V508.35M562.04 501.64L567.66 507.26M562.04 507.26L567.66 501.64" stroke="#ff0000" stroke-width="0.85" fill="none"/>
<text x="570.05" y="507.65" font-size="12.6" text-anchor="start" font-weight="normal" fill="#262626" stroke="#262626" stroke-width="0.2">K</text>
<text x="578.55" y="513.95" font-size="10.0" text-anchor="start" font-weight="normal" fill="#262626" stroke="#262626" stroke-width="0.2">3</text>
<path d="M654.35 504.65L658.65 511.85H650.05Z" stroke="#3636ff" stroke-width="1.05" fill="none" stroke-linejoin="miter"/>
<text x="660.2" y="507.75" font-size="12.6" text-anchor="start" font-weight="normal" fill="#262626" stroke="#262626" stroke-width="0.2">K</text>
<text x="668.65" y="513.85" font-size="10.0" text-anchor="start" font-weight="normal" fill="#262626" stroke="#262626" stroke-width="0.2">7</text>
</svg>
</body></html>
